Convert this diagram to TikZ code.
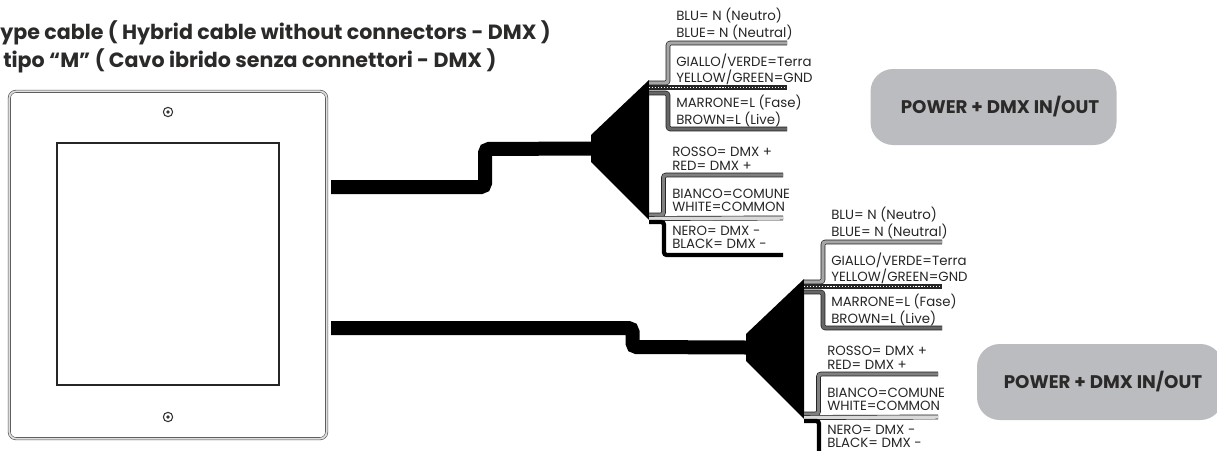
\documentclass[tikz,border=0pt]{standalone}
\usepackage{fontspec}
\setmainfont{Poppins}
\definecolor{boxgray}{HTML}{BBBCBF}
\definecolor{titleink}{HTML}{2B2A29}
\begin{document}
\begin{tikzpicture}[x=0.75pt,y=-0.75pt]
    % Define styles
    \tikzset{
        panel/.style={draw=black!70, line width=0.45pt, double=black!12, double distance=1.3pt, rounded corners=5pt, minimum width=238pt, minimum height=260.5pt},
        screen/.style={draw=black!85, line width=1.4pt, minimum width=166pt, minimum height=181pt},
        screw/.style={circle, draw=black!80, line width=0.8pt, minimum size=7pt, inner sep=0pt},
        cable/.style={line width=10.5pt, rounded corners=3pt},
        fan/.style={fill=black},
        wire/.style={draw=black!90, line width=0.5pt, double=#1, double distance=2.6pt, rounded corners=2pt},
        blackwire/.style={draw=black, line width=3.2pt, rounded corners=2pt},
        gndwire/.style={draw=black!85, line width=3.6pt},
        wirelabel/.style={anchor=west, align=left, inner sep=0pt, font=\fontsize{10}{10.1}\selectfont, text=black!85},
        powerbox/.style={fill=boxgray, rounded corners=17pt, minimum width=184.5pt, minimum height=57pt, font=\fontsize{13.7}{15}\bfseries\selectfont, text=titleink},
        titletext/.style={anchor=base west, inner sep=0pt, font=\fontsize{15.45}{18}\bfseries\selectfont, text=titleink}
    }

    \useasboundingbox (0,0) rectangle (1217,450);

    % Title
    \node[titletext] (title_en) at (0,39) {ype cable ( Hybrid cable without connectors - DMX )};
    \node[titletext] (title_it) at (3,67) {tipo “M” ( Cavo ibrido senza connettori - DMX )};

    % Panel
    \node[panel] (panel) at (168,265) {};
    \node[screen] (screen) at (168,264) {};
    \node[screw] (screw_top) at (168,112) {};
    \node[screw] (screw_bottom) at (168,417) {};
    \fill[black!80] (screw_top) circle (1.4pt) (screw_bottom) circle (1.4pt);
    \coordinate (cable_a_start) at (331,187);
    \coordinate (cable_b_start) at (331,328);

    % Wires and labels, one group per cable
    \foreach \g/\dx/\dy in {a/0/0,b/155/199}{
        \begin{scope}[shift={(\dx,\dy)}]
            \coordinate (fan_\g) at (591,148.5);
            \fill[fan] (649,80) -- (591,135) -- (591,162) -- (649,220) -- cycle;

            \coordinate (blue_\g) at (787,43);
            \coordinate (gnd_\g) at (787,87.5);
            \coordinate (brown_\g) at (787,129);
            \coordinate (red_\g) at (783,175);
            \coordinate (white_\g) at (783,218);
            \coordinate (black_\g) at (783,255);

            \draw[wire=black!35] (649,83) -| (668,43) -- (blue_\g);
            \draw[wire=black!60] (649,93) -| (668,129) -- (brown_\g);
            \draw[gndwire] (649,87.5) -- (gnd_\g);
            \draw[white, line width=1.4pt, dash pattern=on 0.9pt off 1.3pt] (649,87.5) -- (gnd_\g);
            \draw[wire=black!50] (649,215) -| (663.5,175) -- (red_\g);
            \draw[wire=black!15] (649,218.5) -- (white_\g);
            \draw[blackwire] (649,222) -| (664,255) -- (black_\g);

            \node[wirelabel] (lbl_blue_\g) at (676,24) {BLU= N (Neutro)\\BLUE= N (Neutral)};
            \node[wirelabel] (lbl_gnd_\g) at (676,69.5) {GIALLO/VERDE=Terra\\YELLOW/GREEN=GND};
            \node[wirelabel] (lbl_brown_\g) at (676,111) {MARRONE=L (Fase)\\BROWN=L (Live)};
            \node[wirelabel] (lbl_red_\g) at (672,159) {ROSSO= DMX +\\RED= DMX +};
            \node[wirelabel] (lbl_white_\g) at (672,200.5) {BIANCO=COMUNE\\WHITE=COMMON};
            \node[wirelabel] (lbl_black_\g) at (672,237.5) {NERO= DMX -\\BLACK= DMX -};
        \end{scope}
    }

    % Cables
    \draw[cable] (cable_a_start) -- (485,187) -- (485,149) -- (fan_a);
    \draw[cable] (cable_b_start) -- (632.5,328) -- (632.5,347) -- (fan_b);

    % Power boxes
    \node[powerbox] (power_a) at (993.5,107) {\hspace*{9.8pt}POWER + DMX IN/OUT};
    \node[powerbox] (power_b) at (1100,382) {\hspace*{4.5pt}POWER + DMX IN/OUT};
\end{tikzpicture}
\end{document}
